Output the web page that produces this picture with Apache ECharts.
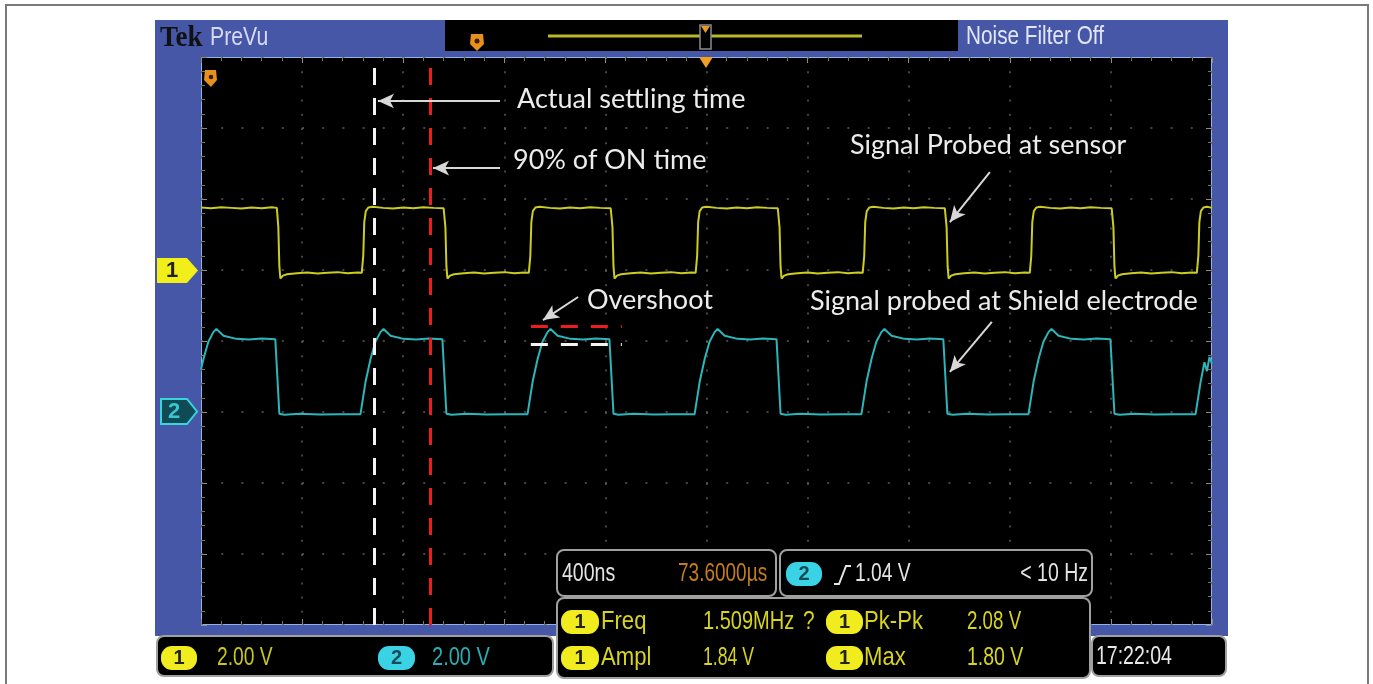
<!DOCTYPE html>
<html><head><meta charset="utf-8">
<script src="https://cdn.jsdelivr.net/npm/echarts/dist/echarts.min.js"></script>
<style>html,body{margin:0;padding:0;background:#fff}#c{width:1373px;height:684px}</style>
</head><body><div id="c"></div>
<script>
// ---- scope settings ----
const timeRange = [-2000, 2000];   // ns, 10 div x 400 ns
const timePerDiv = 400;
const ch1Range = [-10, 6];         // V, 8 div x 2 V, ground 3 div below top
const ch2Range = [-6, 10];         // V, ground 5 div below top
const voltsPerDiv = 2;

// ---- channel 1 (signal probed at sensor) [ns, V] ----
const ch1Trace = [
[-2000,1.76],[-1960,1.74],[-1920,1.77],[-1880,1.75],[-1840,1.73],[-1800,1.76],[-1760,1.74],[-1720,1.77],[-1700,1.75],
[-1694,1.2],[-1690,0.1],[-1686,-0.24],[-1676,-0.16],[-1660,-0.12],[-1620,-0.09],[-1580,-0.07],[-1540,-0.10],[-1500,-0.08],[-1460,-0.06],[-1420,-0.09],[-1380,-0.07],[-1364,-0.08],
[-1358,0.4],[-1354,1.35],[-1348,1.66],[-1338,1.76],[-1320,1.78],[-1280,1.75],[-1240,1.73],[-1200,1.76],[-1160,1.74],[-1120,1.77],[-1080,1.75],[-1040,1.74],
[-1033,1.2],[-1029,0.1],[-1025,-0.24],[-1015,-0.16],[-999,-0.12],[-960,-0.09],[-920,-0.07],[-880,-0.10],[-840,-0.08],[-800,-0.06],[-760,-0.09],[-720,-0.07],[-703,-0.08],
[-697,0.4],[-693,1.35],[-687,1.66],[-677,1.76],[-660,1.78],[-620,1.75],[-580,1.73],[-540,1.76],[-500,1.74],[-460,1.77],[-420,1.75],[-379,1.74],
[-372,1.2],[-368,0.1],[-364,-0.24],[-354,-0.16],[-338,-0.12],[-300,-0.09],[-260,-0.07],[-220,-0.10],[-180,-0.08],[-140,-0.06],[-100,-0.09],[-60,-0.07],[-43,-0.08],
[-37,0.4],[-33,1.35],[-27,1.66],[-17,1.76],[0,1.78],[40,1.75],[80,1.73],[120,1.76],[160,1.74],[200,1.77],[240,1.75],[282,1.74],
[289,1.2],[293,0.1],[297,-0.24],[307,-0.16],[323,-0.12],[360,-0.09],[400,-0.07],[440,-0.10],[480,-0.08],[520,-0.06],[560,-0.09],[600,-0.07],[618,-0.08],
[624,0.4],[628,1.35],[634,1.66],[644,1.76],[660,1.78],[700,1.75],[740,1.73],[780,1.76],[820,1.74],[860,1.77],[900,1.75],[943,1.74],
[950,1.2],[954,0.1],[958,-0.24],[968,-0.16],[984,-0.12],[1020,-0.09],[1060,-0.07],[1100,-0.10],[1140,-0.08],[1180,-0.06],[1220,-0.09],[1260,-0.07],[1279,-0.08],
[1285,0.4],[1289,1.35],[1295,1.66],[1305,1.76],[1320,1.78],[1360,1.75],[1400,1.73],[1440,1.76],[1480,1.74],[1520,1.77],[1560,1.75],[1603,1.74],
[1610,1.2],[1614,0.1],[1618,-0.24],[1628,-0.16],[1644,-0.12],[1680,-0.09],[1720,-0.07],[1760,-0.10],[1800,-0.08],[1840,-0.06],[1880,-0.09],[1920,-0.07],[1940,-0.08],
[1946,0.4],[1950,1.35],[1956,1.66],[1966,1.76],[1980,1.78],[2000,1.75]
];

// ---- channel 2 (signal probed at shield electrode) [ns, V] ----
const ch2Trace = [
[-2000,1.2],[-1990,1.50],[-1971,1.98],[-1951,2.25],[-1939,2.34],[-1911,2.15],[-1860,2.06],[-1810,2.04],[-1760,2.07],[-1706,2.05],[-1698,1.0],[-1690,-0.05],[-1670,-0.08],[-1610,-0.05],[-1530,-0.07],[-1450,-0.06],
[-1369,-0.06],[-1349,0.85],[-1329,1.50],[-1310,1.98],[-1290,2.25],[-1278,2.34],[-1250,2.15],[-1199,2.06],[-1149,2.04],[-1099,2.07],[-1045,2.05],[-1037,1.0],[-1029,-0.05],[-1009,-0.08],[-949,-0.05],[-869,-0.07],[-789,-0.06],
[-708,-0.06],[-688,0.85],[-668,1.50],[-649,1.98],[-629,2.25],[-617,2.34],[-589,2.15],[-538,2.06],[-488,2.04],[-438,2.07],[-384,2.05],[-376,1.0],[-368,-0.05],[-348,-0.08],[-288,-0.05],[-208,-0.07],[-128,-0.06],
[-47,-0.06],[-27,0.85],[-7,1.50],[12,1.98],[32,2.25],[44,2.34],[72,2.15],[123,2.06],[173,2.04],[223,2.07],[277,2.05],[285,1.0],[293,-0.05],[313,-0.08],[373,-0.05],[453,-0.07],[533,-0.06],
[613,-0.06],[633,0.85],[653,1.50],[672,1.98],[692,2.25],[704,2.34],[732,2.15],[783,2.06],[833,2.04],[883,2.07],[937,2.05],[945,1.0],[953,-0.05],[973,-0.08],[1033,-0.05],[1113,-0.07],[1193,-0.06],
[1274,-0.06],[1294,0.85],[1314,1.50],[1333,1.98],[1353,2.25],[1365,2.34],[1393,2.15],[1444,2.06],[1494,2.04],[1544,2.07],[1598,2.05],[1606,1.0],[1614,-0.05],[1634,-0.08],[1694,-0.05],[1774,-0.07],[1854,-0.06],
[1935,-0.06],[1955,0.85],[1970,1.40],[1980,1.15],[1990,1.55],[2000,1.35]
];

// ---- cursors / annotations (data units) ----
const settleCursorT = -1316;     // white dashed: actual settling time
const ninetyCursorT = -1092;     // red dashed: 90% of ON time
const overshootSpan = [-695, -335];
const overshootPeakV = 2.42;
const overshootSettledV = 1.92;
const ch1Arrows = [ [[-817,4.76],[-1300,4.76]], [[-817,2.87],[-1082,2.87]], [[1121,2.76],[963,1.35]] ];
const ch2Arrows = [ [[-508,3.24],[-647,2.59]], [[1129,2.54],[963,1.13]] ];

// ---- readouts ----
const chScales = ['2.00 V', '2.00 V'];
const timebase = ['400ns', '73.6000µs'];
const trigger = ['1.04 V', '< 10 Hz'];
const measNames = ['Freq', 'Pk-Pk', 'Ampl', 'Max'];
const measValues = ['1.509MHz', '2.08 V', '1.84 V', '1.80 V'];
const clock = '17:22:04';

const YEL = '#cccc22', CYA = '#2bb6ba';
const NARROW = '"Liberation Sans",Arial,sans-serif';
const ANNO = 'Lato,"Open Sans",sans-serif';

function txt(x, y, text, fill, size, sx, align) {
  return {type:'text', x:x, y:y, z:11, scaleX:sx || 1,
    style:{text:text, fill:fill, font: size + 'px ' + NARROW, textAlign:align || 'left', textVerticalAlign:'middle'}};
}
function anno(x, y, text) {
  return {type:'text', x:x, y:y, z:6, style:{text:text, fill:'#ececec', font:'27px ' + ANNO, textVerticalAlign:'middle'}};
}
function panel(x, y, w, h) {
  return {type:'rect', z:10, shape:{x:x, y:y, width:w, height:h, r:7}, style:{fill:'#000', stroke:'#a0a0a0', lineWidth:2}};
}
function badge(x, y, w, num, fill, numFill) {
  return [
    {type:'rect', z:11, shape:{x:x, y:y, width:w, height:24, r:11}, style:{fill:fill}},
    {type:'text', z:12, x:x + w/2, y:y + 12, style:{text:num, fill:numFill, font:'bold 20px ' + NARROW, textAlign:'center', textVerticalAlign:'middle'}}
  ];
}

const BLUE = '#4757a8';
const graphics = [
  // outer frame
  {type:'rect', z:0, shape:{x:6, y:5, width:1362, height:720}, style:{fill:'none', stroke:'#7a7a7a', lineWidth:2}},
  // bezel around graticule
  {type:'rect', z:0, shape:{x:155, y:20, width:1073, height:37}, style:{fill:BLUE}},
  {type:'rect', z:0, shape:{x:155, y:57, width:46, height:579}, style:{fill:BLUE}},
  {type:'rect', z:0, shape:{x:1212, y:57, width:16, height:579}, style:{fill:BLUE}},
  {type:'rect', z:0, shape:{x:201, y:625, width:1011, height:11}, style:{fill:BLUE}},
  // header black strip
  {type:'rect', z:1, shape:{x:445, y:20, width:513, height:31}, style:{fill:'#000'}},
  {type:'text', z:2, x:160, y:38, scaleX:0.9, style:{text:'Tek', fill:'#111', font:'bold 30px "Liberation Serif",serif', textVerticalAlign:'middle'}},
  txt(210, 38, 'PreVu', '#d6daf0', 25, 0.85),
  txt(966, 37, 'Noise Filter Off', '#e2e6f6', 25, 0.83),
  // record position bar
  {type:'line', z:2, shape:{x1:548, y1:36, x2:862, y2:36}, style:{stroke:'#b9b92a', lineWidth:3}},
  {type:'rect', z:3, shape:{x:700, y:25, width:11, height:24}, style:{fill:'#000', stroke:'#8a8a8a', lineWidth:1.5}},
  {type:'polygon', z:4, shape:{points:[[701,26],[710,26],[705.5,33]]}, style:{fill:'#e89a22'}},
  {type:'polygon', z:4, shape:{points:[[699,57],[713,57],[706,68]]}, style:{fill:'#f0a020'}},
  // trigger flags
  {type:'polygon', z:3, shape:{points:[[471,34],[483,34],[484,44],[477,51],[470,44]]}, style:{fill:'#e8901e'}},
  {type:'circle', z:4, shape:{cx:477, cy:41, r:2.5}, style:{fill:'#3a2000'}},
  {type:'polygon', z:8, shape:{points:[[205,70],[216,70],[217,80],[211,87],[204,80]]}, style:{fill:'#e8901e'}},
  {type:'circle', z:9, shape:{cx:211, cy:77, r:2.3}, style:{fill:'#3a2000'}},
  // channel ground markers
  {type:'polygon', z:3, shape:{points:[[157,258],[187,258],[198,270.5],[187,283],[157,283]]}, style:{fill:'#f2ee1a'}},
  {type:'text', z:4, x:172, y:271, style:{text:'1', fill:'#222', font:'bold 22px ' + NARROW, textAlign:'center', textVerticalAlign:'middle'}},
  {type:'polygon', z:3, shape:{points:[[161,399],[187,399],[197,411.5],[187,424],[161,424]]}, style:{fill:'#0f4a55', stroke:'#36d4dc', lineWidth:2}},
  {type:'text', z:4, x:174, y:412, style:{text:'2', fill:'#36c8d0', font:'bold 22px ' + NARROW, textAlign:'center', textVerticalAlign:'middle'}},
  // annotations
  anno(517, 99, 'Actual settling time'),
  anno(513, 160, '90% of ON time'),
  anno(850, 145, 'Signal Probed at sensor'),
  anno(587, 300, 'Overshoot'),
  anno(810, 301, 'Signal probed at Shield electrode'),
  // bottom-left channel panel
  panel(157, 636, 396, 40),
  ...badge(161, 646, 36, '1', '#f0ec1e', '#222'),
  txt(217, 658, chScales[0], '#c9c51e', 26, 0.74),
  ...badge(378, 646, 37, '2', '#3ad3e6', '#1a4a55'),
  txt(432, 658, chScales[1], '#27aeb6', 26, 0.77),
  // timebase panel
  panel(557, 550, 219, 46),
  txt(562, 574, timebase[0], '#e4e4e4', 25, 0.78),
  txt(678, 574, timebase[1], '#c47c1e', 25, 0.76),
  // trigger panel
  panel(780, 550, 312, 46),
  ...badge(786, 562, 36, '2', '#3ad3e6', '#1a4a55'),
  {type:'polyline', z:11, shape:{points:[[834,584],[839,584],[846,566],[851,566]]}, style:{stroke:'#e4e4e4', lineWidth:2, fill:'none'}},
  txt(855, 574, trigger[0], '#e4e4e4', 25, 0.77),
  {type:'text', z:11, x:1088, y:574, scaleX:0.78, style:{text:trigger[1], fill:'#e4e4e4', font:'25px ' + NARROW, textAlign:'right', textVerticalAlign:'middle'}},
  // measurement panel
  panel(557, 598, 533, 80),
  ...badge(561, 610, 38, '1', '#f0ec1e', '#222'),
  txt(601, 622, measNames[0], '#d8d41e', 26, 0.85),
  txt(703, 622, measValues[0], '#d8d41e', 26, 0.77),
  txt(803, 622, '?', '#d8d41e', 26, 0.8),
  ...badge(826, 610, 37, '1', '#f0ec1e', '#222'),
  txt(864, 622, measNames[1], '#d8d41e', 26, 0.85),
  txt(967, 622, measValues[1], '#d8d41e', 26, 0.72),
  ...badge(561, 646, 38, '1', '#f0ec1e', '#222'),
  txt(601, 658, measNames[2], '#d8d41e', 26, 0.85),
  txt(703, 658, measValues[2], '#d8d41e', 26, 0.68),
  ...badge(826, 646, 37, '1', '#f0ec1e', '#222'),
  txt(864, 658, measNames[3], '#d8d41e', 26, 0.85),
  txt(967, 658, measValues[3], '#d8d41e', 26, 0.75),
  // clock panel
  panel(1092, 636, 134, 40),
  txt(1096, 657, clock, '#e8e8e8', 25, 0.78)
];

function arrowData(list, color) {
  return list.map(function (a) {
    return [
      {coord:a[0], symbol:'none', lineStyle:{color:color, width:2, type:'solid'}},
      {coord:a[1], symbol:'arrow', symbolSize:[11, 16]}
    ];
  });
}

const axisTickCommon = {show:true, inside:true, length:6, lineStyle:{color:'#8c8c8c', width:1}};
const minorTickCommon = {show:true, splitNumber:5, length:4, lineStyle:{color:'#777', width:1}};
const noLine = {show:false, onZero:false};

const option = {
  animation:false,
  backgroundColor:'#fff',
  grid:{left:201, top:57, width:1011, height:568, show:true, backgroundColor:'#000', borderColor:'#8fb2ea', borderWidth:2},
  xAxis:[
    {type:'value', min:timeRange[0], max:timeRange[1], interval:timePerDiv, position:'bottom',
     axisLine:noLine, axisLabel:{show:false}, axisTick:axisTickCommon, minorTick:minorTickCommon,
     splitLine:{show:true, lineStyle:{color:'#5c5c5c', width:1.5, type:[2, 12.2]}}},
    {type:'value', min:timeRange[0], max:timeRange[1], interval:timePerDiv, position:'top',
     axisLine:noLine, axisLabel:{show:false}, axisTick:axisTickCommon, minorTick:minorTickCommon, splitLine:{show:false}}
  ],
  yAxis:[
    {type:'value', min:ch1Range[0], max:ch1Range[1], interval:voltsPerDiv, position:'left',
     axisLine:noLine, axisLabel:{show:false}, axisTick:axisTickCommon, minorTick:minorTickCommon,
     splitLine:{show:true, lineStyle:{color:'#5c5c5c', width:1.5, type:[2, 18.2]}}},
    {type:'value', min:ch2Range[0], max:ch2Range[1], interval:voltsPerDiv, position:'right',
     axisLine:noLine, axisLabel:{show:false}, axisTick:axisTickCommon, minorTick:minorTickCommon, splitLine:{show:false}}
  ],
  graphic:graphics,
  series:[
    {name:'CH1', type:'line', xAxisIndex:0, yAxisIndex:0, data:ch1Trace, showSymbol:false, symbol:'none',
     lineStyle:{color:YEL, width:2}, z:3,
     markLine:{silent:true, symbol:['none','none'], label:{show:false}, z:4,
       data:[
         {xAxis:settleCursorT, lineStyle:{color:'#f4f4f4', width:3, type:[17, 13]}},
         {xAxis:ninetyCursorT, lineStyle:{color:'#ee1c1c', width:3, type:[17, 13]}}
       ].concat(arrowData(ch1Arrows, '#d8d8d8'))}},
    {name:'CH2', type:'line', xAxisIndex:0, yAxisIndex:1, data:ch2Trace, showSymbol:false, symbol:'none',
     lineStyle:{color:CYA, width:2}, z:3,
     markLine:{silent:true, symbol:['none','none'], label:{show:false}, z:4,
       data:[
         [{coord:[overshootSpan[0], overshootPeakV], lineStyle:{color:'#ee1c1c', width:3, type:[17, 13]}}, {coord:[overshootSpan[1], overshootPeakV]}],
         [{coord:[overshootSpan[0], overshootSettledV], lineStyle:{color:'#f4f4f4', width:3, type:[17, 13]}}, {coord:[overshootSpan[1], overshootSettledV]}]
       ].concat(arrowData(ch2Arrows, '#d8d8d8'))}}
  ]
};
const chart = echarts.init(document.getElementById('c'), null, {renderer:'canvas'});
chart.setOption(option);
</script></body></html>
